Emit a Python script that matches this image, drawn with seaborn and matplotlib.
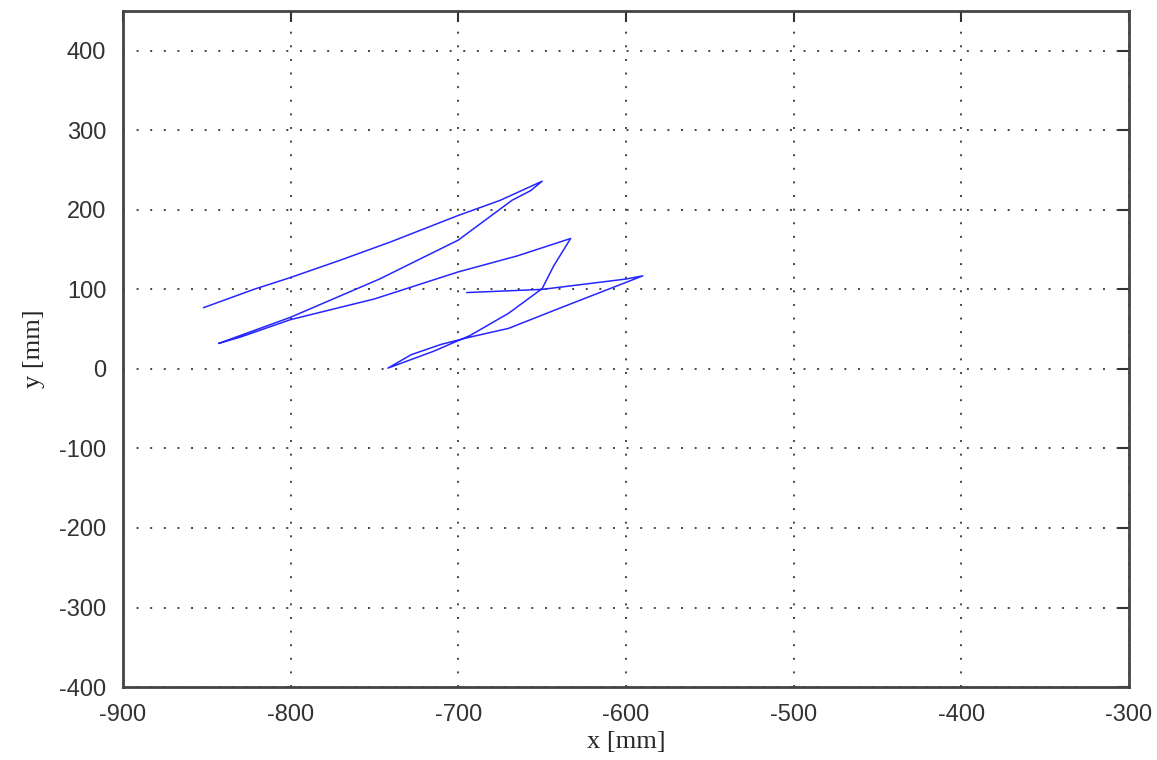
import numpy as np
import pandas as pd
import seaborn as sns
import matplotlib
matplotlib.use("Agg")
import matplotlib.pyplot as plt

# path of the trajectory (mm)
x_mm = [-852, -835, -822, -800, -770, -740, -700, -675, -650,
        -657, -668, -700, -747, -800, -830, -843,
        -830, -800, -750, -700, -665, -633,
        -643, -650, -670, -693, -715, -742,
        -728, -710, -693, -670, -640, -590,
        -600, -650, -695]
y_mm = [77, 90, 100, 115, 137, 160, 193, 212, 236,
        224, 212, 162, 113, 65, 42, 32,
        40, 62, 88, 122, 142, 164,
        130, 101, 70, 42, 22, 1,
        18, 31, 40, 51, 76, 117,
        113, 100, 96]

df = pd.DataFrame({"x": x_mm, "y": y_mm})

xticks = [-900, -800, -700, -600, -500, -400, -300]
yticks = [-400, -300, -200, -100, 0, 100, 200, 300, 400]

sns.set_style("white")
plt.rcParams["font.family"] = ["Liberation Sans", "DejaVu Sans"]
plt.rcParams["axes.unicode_minus"] = False

fig = plt.figure(figsize=(11.57, 7.6), dpi=100)
ax = fig.add_axes([0.1063, 0.096, 0.8695, 0.8895])

sns.lineplot(data=df, x="x", y="y", sort=False, estimator=None,
             color=(0.15, 0.15, 1.0), linewidth=1.1, ax=ax)

ax.set_xlim(-900, -300)
ax.set_ylim(-400, 450)
ax.set_xticks(xticks)
ax.set_yticks(yticks)
ax.tick_params(direction="in", length=8, width=1.5, top=True, right=True,
               labelsize=17, colors="#333333", pad=12)
ax.grid(True, color="#444444", linestyle=(0, (1, 6)), linewidth=1.4)

for s in ax.spines.values():
    s.set_color("#444444")
    s.set_linewidth(2)

ax.set_xlabel("x [mm]", family=["Liberation Serif"], fontsize=19, labelpad=4)
ax.set_ylabel("y [mm]", family=["Liberation Serif"], fontsize=19, labelpad=10)

fig.savefig("out.png", dpi=100)
